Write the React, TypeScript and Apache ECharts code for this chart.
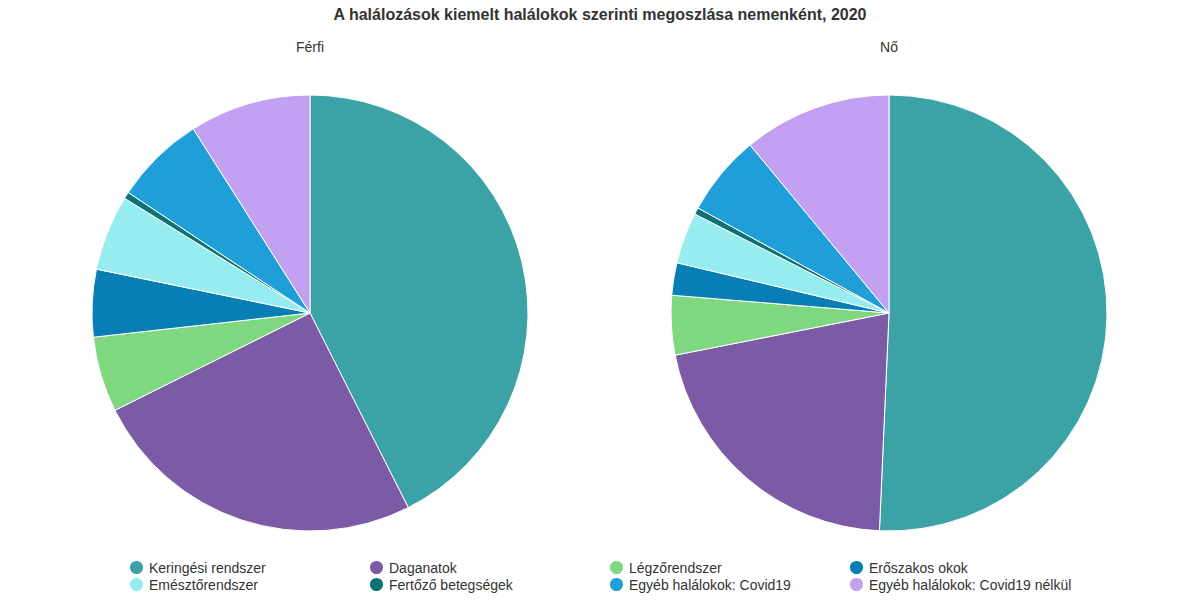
import React, { useEffect, useRef } from "react";
import * as echarts from "echarts";

const categories = [
  "Keringési rendszer",
  "Daganatok",
  "Légzőrendszer",
  "Erőszakos okok",
  "Emésztőrendszer",
  "Fertőző betegségek",
  "Egyéb halálokok: Covid19",
  "Egyéb halálokok: Covid19 nélkül",
];
const colors = ["#3ba2a5", "#7b5ba6", "#7fd77f", "#087fb4", "#96ecee", "#0b7373", "#1f9ed7", "#c3a1f2"];
const ferfiValues = [42.6, 25.1, 5.6, 5.0, 5.6, 0.5, 6.7, 9.0];
const noValues = [50.7, 21.2, 4.4, 2.4, 3.8, 0.5, 6.0, 11.0];
const titleText = "A halálozások kiemelt halálokok szerinti megoszlása nemenként, 2020";
const pieTitles = ["Férfi", "Nő"];

const FONT = "'Liberation Sans', Arial, sans-serif";

export default function App() {
  const ref = useRef<HTMLDivElement>(null);
  useEffect(() => {
    document.body.style.margin = "0";
    if (!ref.current) return;
    const chart = echarts.init(ref.current, undefined, { renderer: "svg" });
    const mk = (vals: number[]) =>
      categories.map((name, i) => ({ name, value: vals[i], itemStyle: { color: colors[i] } }));
    const colLefts = [128, 368, 608, 848];
    const rowTops = [559, 576];
    const legends = categories.map((name, i) => ({
      left: colLefts[i % 4],
      top: rowTops[Math.floor(i / 4)],
      icon: "circle",
      itemWidth: 15,
      itemHeight: 15,
      itemGap: 5,
      padding: 0,
      selectedMode: false,
      data: [name],
      textStyle: { fontFamily: FONT, fontSize: 14, color: "#333" },
    }));
    const common = {
      type: "pie" as const,
      radius: 218,
      startAngle: 90,
      clockwise: true,
      label: { show: false },
      labelLine: { show: false },
      emphasis: { disabled: true },
      itemStyle: { borderColor: "#fff", borderWidth: 1 },
    };
    chart.setOption({
      animation: false,
      title: [
        {
          text: titleText,
          left: "center",
          top: 1,
          textStyle: { fontFamily: FONT, fontSize: 16, fontWeight: "bold", color: "#333" },
        },
        {
          text: pieTitles[0],
          left: 305,
          top: 35,
          textAlign: "center",
          textStyle: { fontFamily: FONT, fontSize: 14, fontWeight: "normal", color: "#333" },
        },
        {
          text: pieTitles[1],
          left: 884,
          top: 35,
          textAlign: "center",
          textStyle: { fontFamily: FONT, fontSize: 14, fontWeight: "normal", color: "#333" },
        },
      ],
      legend: legends,
      series: [
        { ...common, name: pieTitles[0], center: [310, 313], data: mk(ferfiValues) },
        { ...common, name: pieTitles[1], center: [889, 313], data: mk(noValues) },
      ],
    });
    return () => chart.dispose();
  }, []);
  return <div ref={ref} style={{ width: 1200, height: 600 }} />;
}
